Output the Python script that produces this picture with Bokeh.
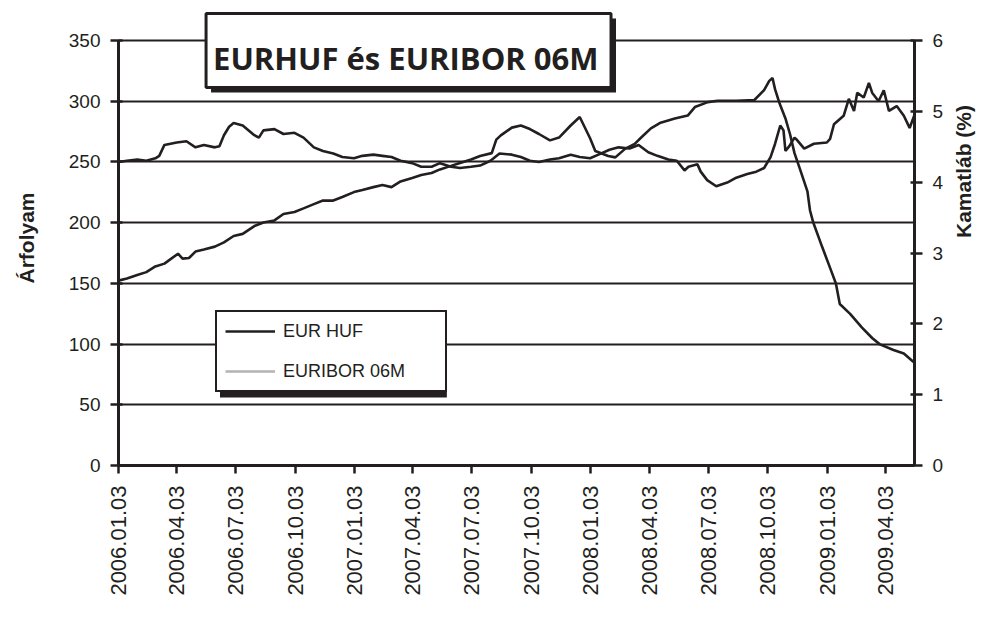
import pandas as pd
from math import pi
from bokeh.plotting import figure
from bokeh.models import (Range1d, LinearAxis, FixedTicker, BoxAnnotation, Label,
                          Legend, LegendItem, ColumnDataSource, DatetimeTickFormatter)
from bokeh.embed import file_html
from bokeh.resources import INLINE

# ---------------- data ----------------
TITLE = "EURHUF és EURIBOR 06M"
LEFT_LABEL = "Árfolyam"
RIGHT_LABEL = "Kamatláb (%)"
SERIES_NAMES = ["EUR HUF", "EURIBOR 06M"]

x_tick_labels = ["2006.01.03", "2006.04.03", "2006.07.03", "2006.10.03",
                 "2007.01.03", "2007.04.03", "2007.07.03", "2007.10.03",
                 "2008.01.03", "2008.04.03", "2008.07.03", "2008.10.03",
                 "2009.01.03", "2009.04.03"]
left_ticks = [0, 50, 100, 150, 200, 250, 300, 350]
right_ticks = [0, 1, 2, 3, 4, 5, 6]

eurhuf_dates = ["2006-01-03", "2006-01-16", "2006-02-01", "2006-02-15", "2006-03-01", "2006-03-07",
                "2006-03-15", "2006-04-03", "2006-04-18", "2006-05-02", "2006-05-15", "2006-06-01",
                "2006-06-08", "2006-06-15", "2006-06-23", "2006-06-30", "2006-07-14", "2006-08-01",
                "2006-08-08", "2006-08-15", "2006-09-01", "2006-09-15", "2006-10-02", "2006-10-16",
                "2006-11-01", "2006-11-15", "2006-12-01", "2006-12-15", "2007-01-02", "2007-01-15",
                "2007-02-01", "2007-02-15", "2007-03-01", "2007-03-15", "2007-04-02", "2007-04-16",
                "2007-05-02", "2007-05-15", "2007-06-01", "2007-06-15", "2007-07-02", "2007-07-16",
                "2007-08-01", "2007-08-15", "2007-09-03", "2007-09-17", "2007-10-01", "2007-10-15",
                "2007-11-01", "2007-11-15", "2007-12-03", "2007-12-17", "2008-01-02", "2008-01-15",
                "2008-02-01", "2008-02-15", "2008-03-03", "2008-03-17", "2008-04-01", "2008-04-15",
                "2008-05-02", "2008-05-15", "2008-05-27", "2008-06-02", "2008-06-16", "2008-06-21",
                "2008-07-01", "2008-07-15", "2008-08-01", "2008-08-15", "2008-09-01", "2008-09-15",
                "2008-09-27", "2008-10-07", "2008-10-14", "2008-10-22", "2008-10-27", "2008-10-30",
                "2008-11-05", "2008-11-13", "2008-11-17", "2008-11-28", "2008-12-13", "2009-01-02",
                "2009-01-07", "2009-01-13", "2009-01-28", "2009-02-05", "2009-02-13", "2009-02-18",
                "2009-02-28", "2009-03-08", "2009-03-13", "2009-03-23", "2009-03-31", "2009-04-08",
                "2009-04-20", "2009-05-01", "2009-05-10", "2009-05-17"]
eurhuf_values = [250, 251, 252, 251, 253, 255,
                 264, 266, 267, 262, 264, 262,
                 263, 272, 279, 282, 280, 272,
                 270, 276, 277, 273, 274, 270,
                 262, 259, 257, 254, 253, 255,
                 256, 255, 254, 251, 249, 246,
                 246, 249, 246, 245, 246, 247,
                 251, 257, 256, 254, 251, 250,
                 252, 253, 256, 254, 253, 256,
                 260, 262, 261, 264, 258, 255,
                 252, 251, 243, 246, 248, 242,
                 235, 230, 233, 237, 240, 242,
                 245, 254, 265, 280, 276, 259,
                 263, 270, 268, 261, 265, 266,
                 269, 281, 288, 302, 292, 307,
                 303, 315, 307, 300, 309, 292,
                 296, 288, 278, 288]

euribor_dates = ["2006-01-03", "2006-01-16", "2006-02-01", "2006-02-15", "2006-03-01", "2006-03-15",
                 "2006-04-05", "2006-04-12", "2006-04-22", "2006-05-02", "2006-05-15", "2006-06-01",
                 "2006-06-15", "2006-06-30", "2006-07-14", "2006-08-01", "2006-08-15", "2006-09-01",
                 "2006-09-15", "2006-10-02", "2006-10-16", "2006-11-01", "2006-11-15", "2006-12-01",
                 "2006-12-15", "2007-01-02", "2007-01-15", "2007-02-01", "2007-02-15", "2007-03-01",
                 "2007-03-15", "2007-04-02", "2007-04-16", "2007-05-02", "2007-05-15", "2007-06-01",
                 "2007-06-15", "2007-07-02", "2007-07-16", "2007-08-03", "2007-08-10", "2007-08-17",
                 "2007-09-03", "2007-09-17", "2007-10-01", "2007-10-15", "2007-11-01", "2007-11-15",
                 "2007-12-03", "2007-12-17", "2008-01-02", "2008-01-10", "2008-01-30", "2008-02-10",
                 "2008-02-25", "2008-03-11", "2008-03-21", "2008-04-05", "2008-04-20", "2008-05-12",
                 "2008-06-01", "2008-06-12", "2008-07-02", "2008-07-17", "2008-08-15", "2008-09-12",
                 "2008-09-27", "2008-10-05", "2008-10-10", "2008-10-14", "2008-10-21", "2008-10-30",
                 "2008-11-06", "2008-11-13", "2008-11-22", "2008-12-03", "2008-12-07", "2008-12-12",
                 "2008-12-26", "2009-01-07", "2009-01-16", "2009-01-22", "2009-02-07", "2009-02-25",
                 "2009-03-13", "2009-03-25", "2009-04-15", "2009-05-01", "2009-05-16"]
euribor_values = [2.61, 2.64, 2.69, 2.73, 2.81, 2.85,
                  2.99, 2.92, 2.93, 3.02, 3.05, 3.09,
                  3.15, 3.24, 3.27, 3.38, 3.43, 3.46,
                  3.55, 3.58, 3.63, 3.69, 3.74, 3.74,
                  3.79, 3.86, 3.89, 3.93, 3.96, 3.93,
                  4.01, 4.06, 4.10, 4.13, 4.18, 4.23,
                  4.27, 4.32, 4.37, 4.41, 4.60, 4.66,
                  4.77, 4.80, 4.75, 4.68, 4.59, 4.63,
                  4.80, 4.92, 4.62, 4.44, 4.37, 4.35,
                  4.47, 4.54, 4.63, 4.76, 4.84, 4.90,
                  4.94, 5.06, 5.13, 5.15, 5.15, 5.16,
                  5.30, 5.43, 5.47, 5.31, 5.11, 4.90,
                  4.68, 4.41, 4.17, 3.87, 3.60, 3.43,
                  3.08, 2.79, 2.57, 2.28, 2.14, 1.95,
                  1.80, 1.71, 1.63, 1.58, 1.46]

# ---------------- styling ----------------
INK = "#231f20"
FONT = "Liberation Sans"
X_START = pd.Timestamp("2006-01-03")
X_END = pd.Timestamp("2009-05-17 12:00")

# page layout (px): axis area 0..350 spans y 465..40; frame extended up to y=10
FL, FR, FB = 118, 918, 465
Y350 = 40
FT = 10
W, H = 989, 614

def to_ms(ts):
    return (pd.Timestamp(ts) - pd.Timestamp("1970-01-01")).total_seconds() * 1000.0

start_ms, end_ms = to_ms(X_START), to_ms(X_END)

def xp(px):
    return start_ms + (px - FL) / (FR - FL) * (end_ms - start_ms)

def yp(py):
    return (FB - py) / (FB - Y350) * 350.0

y_top = yp(FT)

p = figure(width=W, height=H, x_axis_type="datetime",
           x_range=Range1d(start=X_START, end=X_END), y_range=Range1d(0, y_top),
           output_backend="svg", toolbar_location=None, title=None,
           min_border_left=FL, min_border_right=W - FR, min_border_top=FT,
           min_border_bottom=H - FB)
p.extra_y_ranges = {"rate": Range1d(0, y_top * 6 / 350)}
p.outline_line_color = None
p.background_fill_color = "white"
p.border_fill_color = "white"

src_huf = ColumnDataSource(dict(x=pd.to_datetime(eurhuf_dates), y=eurhuf_values))
src_eur = ColumnDataSource(dict(x=pd.to_datetime(euribor_dates), y=euribor_values))
src_key = ColumnDataSource(dict(x=[X_START], y=[float("nan")]))

r_huf = p.line("x", "y", source=src_huf, line_color=INK, line_width=2.6)
r_eur = p.line("x", "y", source=src_eur, line_color=INK, line_width=2.6, y_range_name="rate")
r_eur_key = p.line("x", "y", source=src_key, line_color="#b3b3b3", line_width=2.6)

# grid
p.xgrid.grid_line_color = None
p.ygrid.ticker = FixedTicker(ticks=left_ticks)
p.ygrid.grid_line_color = INK
p.ygrid.grid_line_width = 2

# axes
xa = p.xaxis[0]
xa.ticker = FixedTicker(ticks=[to_ms(pd.to_datetime(t, format="%Y.%m.%d")) for t in x_tick_labels])
fmt = "%Y.%m.%d"
xa.formatter = DatetimeTickFormatter(days=fmt, months=fmt, years=fmt, hours=fmt, hourmin=fmt,
                                     minutes=fmt, minsec=fmt, seconds=fmt, milliseconds=fmt,
                                     microseconds=fmt)
xa.major_label_orientation = pi / 2
xa.major_label_text_font = FONT
xa.major_label_text_font_size = "22px"
xa.major_label_text_color = INK
xa.major_label_standoff = 12
xa.major_tick_in = 0
xa.major_tick_out = 8
xa.minor_tick_line_color = None
xa.axis_line_width = 3
xa.axis_line_color = INK
xa.major_tick_line_width = 2.5
xa.major_tick_line_color = INK

ya = p.yaxis[0]
ya.ticker = FixedTicker(ticks=left_ticks)
ya.bounds = (0, 350)
ya.axis_label = LEFT_LABEL
ya.axis_label_standoff = 28

ra = LinearAxis(y_range_name="rate", ticker=FixedTicker(ticks=right_ticks), bounds=(0, 6),
                axis_label=RIGHT_LABEL, axis_label_standoff=17)
if "axis_label_orientation" in ra.properties():
    ra.axis_label_orientation = pi / 2
p.add_layout(ra, "right")

for ax in (ya, ra):
    ax.major_label_text_font = FONT
    ax.major_label_text_font_size = "19px"
    ax.major_label_text_color = INK
    ax.major_label_standoff = 10
    ax.major_tick_in = 4
    ax.major_tick_out = 8
    ax.minor_tick_line_color = None
    ax.axis_line_width = 3
    ax.axis_line_color = INK
    ax.major_tick_line_width = 2.5
    ax.major_tick_line_color = INK
    ax.axis_label_text_font = FONT
    ax.axis_label_text_font_style = "bold"
    ax.axis_label_text_font_size = "21px"
    ax.axis_label_text_color = INK

# title box with shadow
p.add_layout(BoxAnnotation(left=xp(211), right=xp(618), top=yp(18), bottom=yp(92),
                           fill_color=INK, fill_alpha=1, line_color=None))
p.add_layout(BoxAnnotation(left=xp(206), right=xp(613), top=yp(13), bottom=yp(87),
                           fill_color="white", fill_alpha=1, line_color=INK, line_alpha=1,
                           line_width=3))
p.add_layout(Label(x=xp(213), y=yp(57), text=TITLE, text_font="Open Sans",
                   text_font_style="bold", text_font_size="31px", text_color=INK,
                   text_baseline="alphabetic", text_align="left"))

# legend with shadow
p.add_layout(BoxAnnotation(left=xp(220), right=xp(448), top=yp(319), bottom=yp(397),
                           fill_color=INK, fill_alpha=1, line_color=None))
legend = Legend(items=[LegendItem(label=SERIES_NAMES[0], renderers=[r_huf]),
                       LegendItem(label=SERIES_NAMES[1], renderers=[r_eur_key])],
                location=(215 - FL, FB - 392), orientation="vertical",
                border_line_color=INK, border_line_alpha=1, border_line_width=2.5,
                background_fill_color="white", background_fill_alpha=1,
                padding=8, spacing=18, margin=0,
                glyph_width=50, glyph_height=22, label_height=22, label_width=154,
                label_standoff=8, label_text_font=FONT, label_text_font_size="18px",
                label_text_color=INK)
p.add_layout(legend)

open("out.html", "w").write(file_html(p, INLINE))
